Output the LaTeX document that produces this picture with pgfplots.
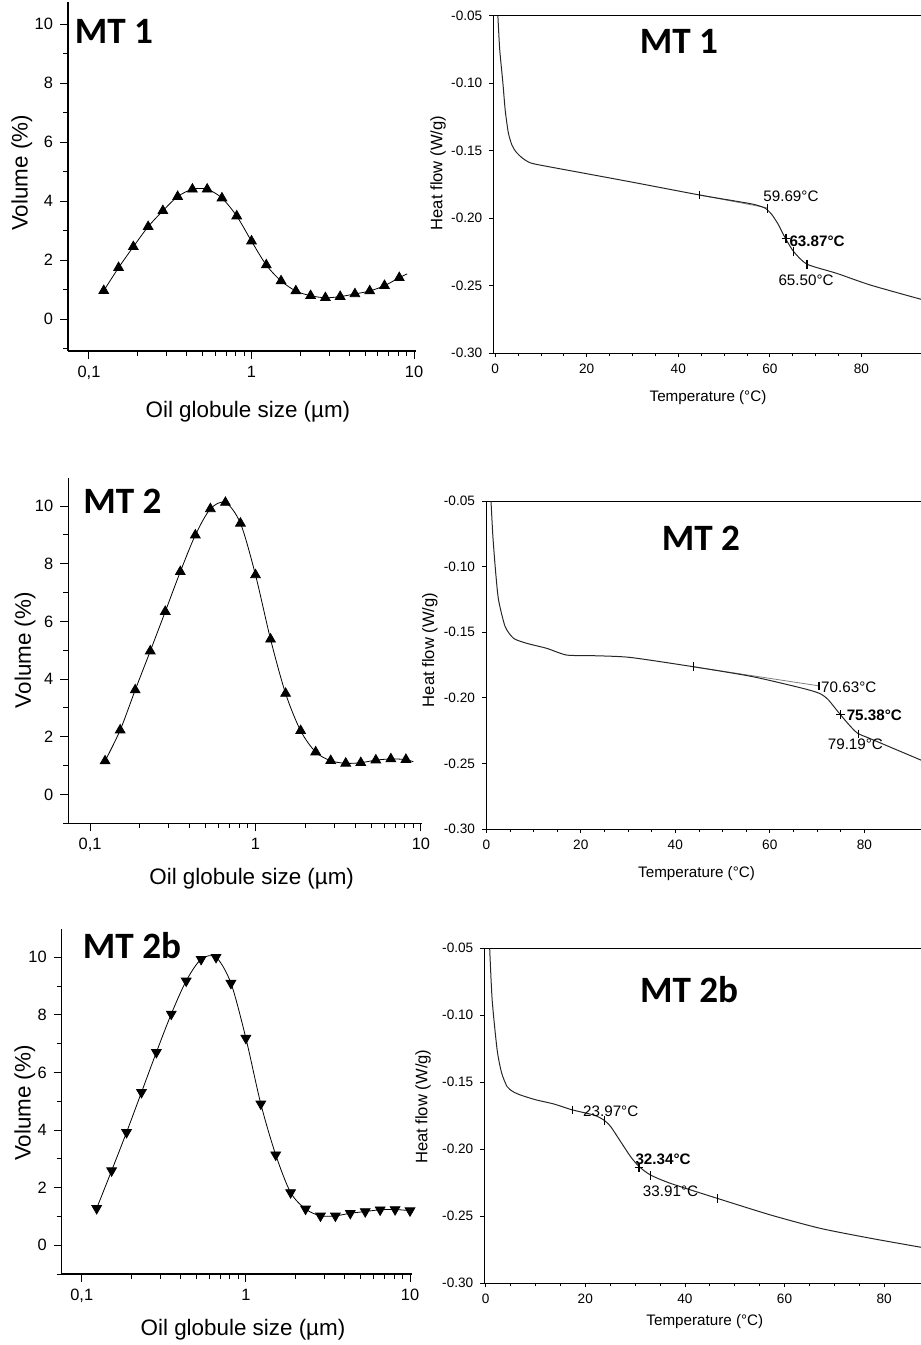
\documentclass[border=0pt]{standalone}
\usepackage{fontspec}
\setmainfont{Liberation Sans}
\newfontfamily\calib{Carlito}
\usepackage{pgfplots}
\pgfplotsset{compat=1.18}
\tikzset{
  mttitle/.style={font=\calib\bfseries\fontsize{18.6}{20}\selectfont},
  annot/.style={anchor=west, inner sep=0pt, font=\fontsize{7.6}{9}\selectfont},
  annotb/.style={anchor=west, inner sep=0pt, font=\bfseries\fontsize{7.6}{9}\selectfont},
}
\begin{document}
\begin{tikzpicture}

% ---- MT 1, size distribution
\begin{axis}[scale only axis, anchor=south west, xmode=log,
  at={(34pt,-175.5pt)}, width=174pt, height=174.5pt,
  xmin=0.0743, xmax=10.28, ymin=-1.085, ymax=10.75,
  axis x line*=bottom, axis y line*=left, axis line style={line width=0.6pt},
  tick align=outside, major tick length=4pt, minor tick length=2.5pt,
  tick style={black, line width=0.5pt},
  xtick={0.1,1,10}, xticklabels={{0,1},{1},{10}},
  ytick={0,2,4,6,8,10}, minor ytick={-1,1,3,5,7,9},
  yticklabel style={/pgf/number format/assume math mode=true},
  tick label style={font=\fontsize{8.2}{9}\selectfont},
  xlabel={Oil globule size (µm)}, ylabel={Volume (\%)},
  xlabel style={font=\fontsize{11.2}{13}\selectfont, at={(rel axis cs:0.517,-0.174)}, anchor=center},
  ylabel style={font=\fontsize{11.2}{13}\selectfont, at={(rel axis cs:-0.133,0.51)}, anchor=center}]
\addplot[black, line width=0.4pt, smooth, tension=0.5] coordinates {
(0.1233,0.96) (0.1521,1.74) (0.1875,2.45) (0.2312,3.13) (0.2849,3.67)
(0.3512,4.15) (0.4329,4.40) (0.5337,4.40) (0.6579,4.10) (0.8110,3.49)
(1.000,2.64) (1.233,1.83) (1.520,1.29) (1.874,0.95) (2.310,0.79)
(2.848,0.72) (3.511,0.76) (4.328,0.85) (5.336,0.95) (6.578,1.13)
(8.110,1.40) (9.06,1.53)};
\addplot[only marks, mark=triangle*, mark size=2.8pt, black] coordinates {
(0.1233,0.96) (0.1521,1.74) (0.1875,2.45) (0.2312,3.13) (0.2849,3.67)
(0.3512,4.15) (0.4329,4.40) (0.5337,4.40) (0.6579,4.10) (0.8110,3.49)
(1.000,2.64) (1.233,1.83) (1.520,1.29) (1.874,0.95) (2.310,0.79)
(2.848,0.72) (3.511,0.76) (4.328,0.85) (5.336,0.95) (6.578,1.13)
(8.110,1.40)};
\node[mttitle] at (rel axis cs:0.132,0.915) {MT 1};
\end{axis}

% ---- MT 2, size distribution
\begin{axis}[scale only axis, anchor=south west, xmode=log,
  at={(34.15pt,-411.65pt)}, width=176.7pt, height=172.5pt,
  xmin=0.0739, xmax=10.1, ymin=-1.0, ymax=10.96,
  axis x line*=bottom, axis y line*=left, axis line style={line width=0.6pt},
  tick align=outside, major tick length=4pt, minor tick length=2.5pt,
  tick style={black, line width=0.5pt},
  xtick={0.1,1,10}, xticklabels={{0,1},{1},{10}},
  ytick={0,2,4,6,8,10}, minor ytick={-1,1,3,5,7,9},
  yticklabel style={/pgf/number format/assume math mode=true},
  tick label style={font=\fontsize{8.2}{9}\selectfont},
  xlabel={Oil globule size (µm)}, ylabel={Volume (\%)},
  xlabel style={font=\fontsize{11.2}{13}\selectfont, at={(rel axis cs:0.519,-0.162)}, anchor=center},
  ylabel style={font=\fontsize{11.2}{13}\selectfont, at={(rel axis cs:-0.1225,0.502)}, anchor=center}]
\addplot[black, line width=0.4pt, smooth, tension=0.5] coordinates {
(0.1233,1.16) (0.1521,2.23) (0.1875,3.62) (0.2312,4.97) (0.2849,6.34)
(0.3512,7.72) (0.4329,8.99) (0.5337,9.90) (0.6579,10.12) (0.8110,9.40)
(1.000,7.61) (1.233,5.38) (1.520,3.50) (1.874,2.21) (2.310,1.47)
(2.848,1.17) (3.511,1.08) (4.328,1.10) (5.336,1.19) (6.578,1.23)
(8.110,1.21) (9.0,1.13)};
\addplot[only marks, mark=triangle*, mark size=2.8pt, black] coordinates {
(0.1233,1.16) (0.1521,2.23) (0.1875,3.62) (0.2312,4.97) (0.2849,6.34)
(0.3512,7.72) (0.4329,8.99) (0.5337,9.90) (0.6579,10.12) (0.8110,9.40)
(1.000,7.61) (1.233,5.38) (1.520,3.50) (1.874,2.21) (2.310,1.47)
(2.848,1.17) (3.511,1.08) (4.328,1.10) (5.336,1.19) (6.578,1.23)
(8.110,1.21)};
\node[mttitle] at (rel axis cs:0.153,0.934) {MT 2};
\end{axis}

% ---- MT 2b, size distribution
\begin{axis}[scale only axis, anchor=south west, xmode=log,
  at={(30.85pt,-637pt)}, width=175pt, height=172.35pt,
  xmin=0.0755, xmax=10.24, ymin=-1.0, ymax=10.97,
  axis x line*=bottom, axis y line*=left, axis line style={line width=0.6pt},
  tick align=outside, major tick length=4pt, minor tick length=2.5pt,
  tick style={black, line width=0.5pt},
  xtick={0.1,1,10}, xticklabels={{0,1},{1},{10}},
  ytick={0,2,4,6,8,10}, minor ytick={-1,1,3,5,7,9},
  yticklabel style={/pgf/number format/assume math mode=true},
  tick label style={font=\fontsize{8.2}{9}\selectfont},
  xlabel={Oil globule size (µm)}, ylabel={Volume (\%)},
  xlabel style={font=\fontsize{11.2}{13}\selectfont, at={(rel axis cs:0.518,-0.162)}, anchor=center},
  ylabel style={font=\fontsize{11.2}{13}\selectfont, at={(rel axis cs:-0.105,0.496)}, anchor=center}]
\addplot[black, line width=0.4pt, smooth, tension=0.5] coordinates {
(0.1233,1.28) (0.1521,2.59) (0.1875,3.92) (0.2312,5.31) (0.2849,6.70)
(0.3512,8.03) (0.4329,9.18) (0.5337,9.93) (0.6579,10.0) (0.8110,9.10)
(1.000,7.19) (1.233,4.91) (1.520,3.14) (1.874,1.83) (2.310,1.26)
(2.848,1.02) (3.511,1.02) (4.328,1.11) (5.336,1.17) (6.578,1.23)
(8.110,1.24) (10.0,1.20)};
\addplot[only marks, mark=triangle*, mark options={rotate=180}, mark size=2.8pt, black] coordinates {
(0.1233,1.28) (0.1521,2.59) (0.1875,3.92) (0.2312,5.31) (0.2849,6.70)
(0.3512,8.03) (0.4329,9.18) (0.5337,9.93) (0.6579,10.0) (0.8110,9.10)
(1.000,7.19) (1.233,4.91) (1.520,3.14) (1.874,1.83) (2.310,1.26)
(2.848,1.02) (3.511,1.02) (4.328,1.11) (5.336,1.17) (6.578,1.23)
(8.110,1.24) (10.0,1.20)};
\node[mttitle] at (rel axis cs:0.201,0.954) {MT 2b};
\end{axis}

% ---- MT 1, DSC
\begin{axis}[scale only axis, anchor=south west,
  at={(246.65pt,-176.65pt)}, width=213.85pt, height=168.8pt,
  xmin=-0.4, xmax=93, ymin=-0.30, ymax=-0.05,
  axis x line*=box, axis y line*=left, xtick pos=left,
  axis line style={line width=0.5pt},
  tick align=outside, major tick length=2pt, minor tick length=1.5pt,
  tick style={black, line width=0.4pt},
  xtick={0,20,40,60,80}, minor x tick num=3,
  ytick={-0.3,-0.25,-0.2,-0.15,-0.1,-0.05},
  yticklabel style={/pgf/number format/fixed, /pgf/number format/fixed zerofill,
    /pgf/number format/precision=2, /pgf/number format/assume math mode=true},
  xticklabel style={/pgf/number format/assume math mode=true},
  tick label style={font=\fontsize{6.8}{8}\selectfont},
  xlabel={Temperature (°C)}, ylabel={Heat flow (W/g)},
  xlabel style={font=\fontsize{7.6}{9}\selectfont, at={(rel axis cs:0.502,-0.132)}, anchor=center},
  ylabel style={font=\fontsize{8.3}{10}\selectfont, at={(rel axis cs:-0.129,0.534)}, anchor=center}]
\addplot[gray, line width=0.4pt] coordinates {(44.7,-0.1828) (59.3,-0.1922)};
\addplot[black!85, line width=0.5pt, smooth, tension=0.4] coordinates {
(0.6,-0.05) (1.0,-0.075) (1.7,-0.10) (2.2,-0.12) (2.9,-0.137) (3.7,-0.146)
(4.6,-0.151) (5.8,-0.155) (7.1,-0.158) (8.9,-0.160) (20,-0.167) (30,-0.1733)
(44.7,-0.1828) (52,-0.1870) (56.5,-0.1897) (59.0,-0.1926) (60.5,-0.1976)
(61.9,-0.2050) (63.4,-0.2149) (65.2,-0.2247) (68.1,-0.2340) (74.6,-0.2408)
(81.9,-0.2494) (93,-0.2600)};
\addplot[only marks, mark=|, mark size=2.2pt, black, line width=0.6pt] coordinates {
(44.7,-0.1828) (59.4,-0.1930) (65.2,-0.2247) (68.1,-0.2340)};
\addplot[only marks, mark=+, mark size=2.2pt, black, line width=0.6pt] coordinates {(63.5,-0.2150)};
\node[annot] at (axis cs:58.5,-0.184) {59.69°C};
\node[annotb] at (axis cs:64.2,-0.2174) {63.87°C};
\node[annot] at (axis cs:61.8,-0.2457) {65.50°C};
\node[mttitle] at (rel axis cs:0.434,0.925) {MT 1};
\end{axis}

% ---- MT 2, DSC
\begin{axis}[scale only axis, anchor=south west,
  at={(243pt,-414.5pt)}, width=217.5pt, height=164pt,
  xmin=-0.06, xmax=92, ymin=-0.30, ymax=-0.05,
  axis x line*=box, axis y line*=left, xtick pos=left,
  axis line style={line width=0.5pt},
  tick align=outside, major tick length=2pt, minor tick length=1.5pt,
  tick style={black, line width=0.4pt},
  xtick={0,20,40,60,80}, minor x tick num=3,
  ytick={-0.3,-0.25,-0.2,-0.15,-0.1,-0.05},
  yticklabel style={/pgf/number format/fixed, /pgf/number format/fixed zerofill,
    /pgf/number format/precision=2, /pgf/number format/assume math mode=true},
  xticklabel style={/pgf/number format/assume math mode=true},
  tick label style={font=\fontsize{6.8}{8}\selectfont},
  xlabel={Temperature (°C)}, ylabel={Heat flow (W/g)},
  xlabel style={font=\fontsize{7.6}{9}\selectfont, at={(rel axis cs:0.484,-0.135)}, anchor=center},
  ylabel style={font=\fontsize{8.3}{10}\selectfont, at={(rel axis cs:-0.129,0.546)}, anchor=center}]
\addplot[gray, line width=0.4pt] coordinates {(43.8,-0.1763) (70.6,-0.1910)};
\addplot[black!85, line width=0.5pt, smooth, tension=0.4] coordinates {
(1.0,-0.05) (1.4,-0.0772) (2.0,-0.105) (2.6,-0.1255) (4.0,-0.1458) (5.8,-0.1547)
(8.6,-0.1585) (12.8,-0.1623) (17.0,-0.1674) (22.7,-0.1679) (30.4,-0.1692)
(43.8,-0.1763) (56.4,-0.1839) (67.0,-0.1928) (70.5,-0.1966) (72.3,-0.2012)
(74.7,-0.2118) (76.8,-0.2207) (78.6,-0.2271) (81.1,-0.2309) (92,-0.2475)};
\addplot[only marks, mark=|, mark size=2.2pt, black, line width=0.6pt] coordinates {
(43.8,-0.1763) (70.4,-0.1910) (78.8,-0.2276)};
\addplot[only marks, mark=+, mark size=2.2pt, black, line width=0.6pt] coordinates {(75.0,-0.2125)};
\node[annot] at (axis cs:70.8,-0.192) {70.63°C};
\node[annotb] at (axis cs:76.2,-0.2131) {75.38°C};
\node[annot] at (axis cs:72.2,-0.2352) {79.19°C};
\node[mttitle] at (rel axis cs:0.494,0.887) {MT 2};
\end{axis}

% ---- MT 2b, DSC
\begin{axis}[scale only axis, anchor=south west,
  at={(242.15pt,-641.65pt)}, width=218.35pt, height=167.5pt,
  xmin=-0.28, xmax=87.4, ymin=-0.30, ymax=-0.05,
  axis x line*=box, axis y line*=left, xtick pos=left,
  axis line style={line width=0.5pt},
  tick align=outside, major tick length=2pt, minor tick length=1.5pt,
  tick style={black, line width=0.4pt},
  xtick={0,20,40,60,80}, minor x tick num=3,
  ytick={-0.3,-0.25,-0.2,-0.15,-0.1,-0.05},
  yticklabel style={/pgf/number format/fixed, /pgf/number format/fixed zerofill,
    /pgf/number format/precision=2, /pgf/number format/assume math mode=true},
  xticklabel style={/pgf/number format/assume math mode=true},
  tick label style={font=\fontsize{6.8}{8}\selectfont},
  xlabel={Temperature (°C)}, ylabel={Heat flow (W/g)},
  xlabel style={font=\fontsize{7.6}{9}\selectfont, at={(rel axis cs:0.505,-0.115)}, anchor=center},
  ylabel style={font=\fontsize{8.3}{10}\selectfont, at={(rel axis cs:-0.140,0.527)}, anchor=center}]
\addplot[black!85, line width=0.5pt, smooth, tension=0.4] coordinates {
(0.8,-0.05) (1.3,-0.0886) (2.3,-0.1259) (3.2,-0.143) (4.3,-0.1532) (5.5,-0.157)
(7.0,-0.1595) (10,-0.1630) (13.7,-0.1662) (17.4,-0.1706) (21.7,-0.1744)
(23.7,-0.1781) (25.1,-0.1831) (27.1,-0.1943) (29.1,-0.2055) (30.8,-0.2129)
(33.1,-0.2192) (37.1,-0.2254) (46.5,-0.2366) (57.2,-0.2490) (67.2,-0.2590)
(77.3,-0.2664) (87.4,-0.2731)};
\addplot[only marks, mark=|, mark size=2.2pt, black, line width=0.6pt] coordinates {
(17.4,-0.1706) (23.9,-0.1785) (33.1,-0.2195) (46.5,-0.2366)};
\addplot[only marks, mark=+, mark size=2.2pt, black, line width=0.6pt] coordinates {(30.8,-0.2135)};
\node[annot] at (axis cs:19.5,-0.1719) {23.97°C};
\node[annotb] at (axis cs:30.0,-0.2075) {32.34°C};
\node[annot] at (axis cs:31.5,-0.2316) {33.91°C};
\node[mttitle] at (rel axis cs:0.469,0.878) {MT 2b};
\end{axis}

\pgfresetboundingbox
\useasboundingbox (0,0) rectangle (460.5pt,-672.5pt);
\end{tikzpicture}
\end{document}
